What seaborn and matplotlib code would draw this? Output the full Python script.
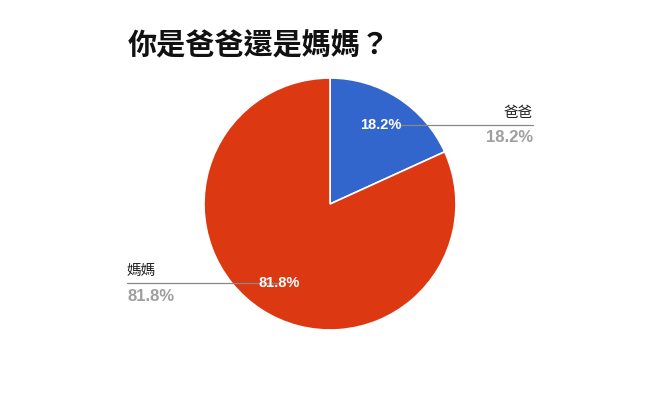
import numpy as np
import matplotlib
matplotlib.use("Agg")
import matplotlib.pyplot as plt
import seaborn as sns

# --- data ---
categories = ["爸爸", "媽媽"]
shares = [18.2, 81.8]
slice_colors = ["#3366CC", "#DC3912"]
title = "你是爸爸還是媽媽？"

sns.set_theme(style="white")
plt.rcParams['font.family'] = ['Liberation Sans', 'Noto Sans CJK TC', 'DejaVu Sans']

W, H = 659, 407
fig = plt.figure(figsize=(W / 100, H / 100), dpi=100)
ax = fig.add_axes([0, 0, 1, 1])

center = (330, H - 204)
radius = 126

wedges, _, autotexts = ax.pie(
    shares, colors=slice_colors, startangle=90, counterclock=False,
    center=center, radius=radius, autopct=lambda p: f"{p:.1f}%",
    pctdistance=0.75, wedgeprops=dict(edgecolor="white", linewidth=1.2),
    textprops=dict(color="white", fontsize=10.5, fontweight="bold"),
)
for t in autotexts:
    t.set_zorder(5)

ax.set_xlim(0, W)
ax.set_ylim(0, H)
ax.set_aspect("equal")
ax.axis("off")

# leader lines + outside labels
line_color = "#888888"
lab_size = 10.5
pct_size = 12
# right label (爸爸)
x0, y0 = autotexts[0].get_position()
ax.plot([x0 + 19, 533], [y0, y0], color=line_color, lw=0.9, zorder=3)
ax.text(533, y0 + 5, categories[0], ha="right", va="bottom", fontsize=lab_size, color="#222222")
ax.text(533, y0 - 5.5, f"{shares[0]:.1f}%", ha="right", va="top", fontsize=pct_size,
        fontweight="bold", color="#9E9E9E")

# left label (媽媽)
x1, y1 = autotexts[1].get_position()
ax.plot([127, x1], [y1, y1], color=line_color, lw=0.9, zorder=3)
ax.text(127, y1 + 5, categories[1], ha="left", va="bottom", fontsize=lab_size, color="#222222")
ax.text(127, y1 - 6, f"{shares[1]:.1f}%", ha="left", va="top", fontsize=pct_size,
        fontweight="bold", color="#9E9E9E")

fig.text(128 / W, 1 - 45 / H, title, ha="left", va="center", fontsize=21,
         fontweight="black", family=['Noto Sans CJK TC', 'DejaVu Sans'], color="#111111")

fig.savefig("out.png", dpi=100)
